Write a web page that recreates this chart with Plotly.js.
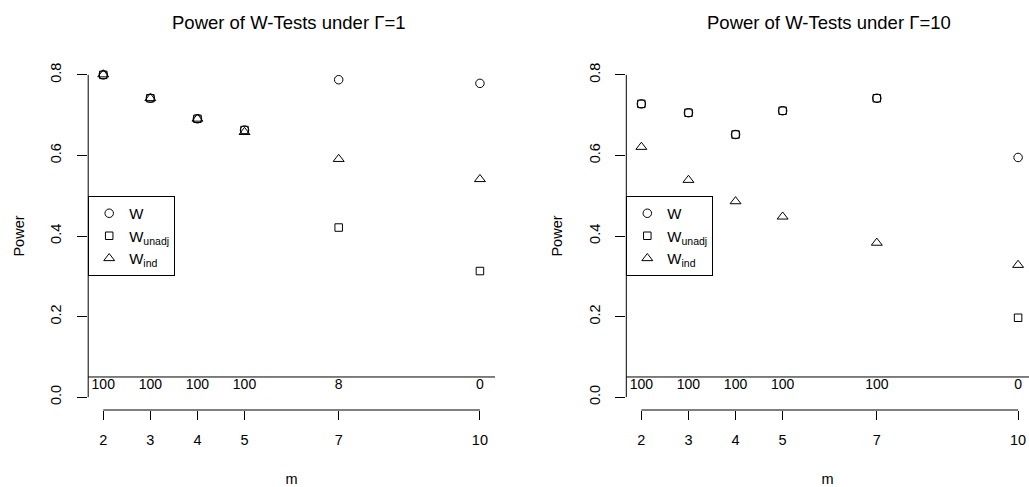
<!DOCTYPE html>
<html>
<head>
<meta charset="utf-8">
<script src="https://cdn.plot.ly/plotly-3.0.1.min.js"></script>
<style>html,body{margin:0;padding:0;background:#fff;}#chart{width:1029px;height:487px;}</style>
</head>
<body>
<div id="chart"></div>
<script>
// ---- data ----
var m = [2, 3, 4, 5, 7, 10];
var mTickLabels = ["2", "3", "4", "5", "7", "10"];
var powerTicks = [0, 0.2, 0.4, 0.6, 0.8];
var powerTickLabels = ["0.0", "0.2", "0.4", "0.6", "0.8"];

var g1_W     = [0.800, 0.742, 0.691, 0.663, 0.788, 0.779];
var g1_unadj = [0.800, 0.742, 0.691, 0.663, 0.421, 0.313];
var g1_ind   = [0.801, 0.742, 0.691, 0.658, 0.591, 0.541];
var g1_count = [100, 100, 100, 100, 8, 0];

var g10_W     = [0.728, 0.706, 0.652, 0.711, 0.742, 0.595];
var g10_unadj = [0.728, 0.706, 0.652, 0.711, 0.742, 0.197];
var g10_ind   = [0.621, 0.539, 0.486, 0.448, 0.383, 0.328];
var g10_count = [100, 100, 100, 100, 100, 0];

var seriesNames = ["W", "W<sub>unadj</sub>", "W<sub>ind</sub>"];
var panelTitles = ["Power of W-Tests under \u0393=1", "Power of W-Tests under \u0393=10"];

// ---- styling / layout constants ----
var W = 1029, H = 487;
var FONT = "Liberation Sans, Arial, Helvetica, sans-serif";
var COUNT_Y = 0.03, HLINE_Y = 0.05;
var symbols = ["circle-open", "square-open", "triangle-up-open"];
var sizes = [8.5, 7.5, 9.5];

function px(x) { return x / W; }
function py(y) { return (H - y) / H; }

var traces = [];
function addPanel(suffix, legendId, series, counts) {
  series.forEach(function (vals, i) {
    traces.push({
      type: "scatter", mode: "markers",
      x: m, y: vals, name: seriesNames[i],
      xaxis: "x" + suffix, yaxis: "y" + suffix,
      legend: legendId,
      marker: { symbol: symbols[i], size: sizes[i], color: "#000", line: { color: "#000", width: 1 } },
      hoverinfo: "x+y+name"
    });
  });
  traces.push({
    type: "scatter", mode: "text",
    x: m, y: m.map(function () { return COUNT_Y; }),
    text: counts.map(String),
    textposition: "middle center",
    textfont: { family: FONT, size: 14, color: "#000" },
    xaxis: "x" + suffix, yaxis: "y" + suffix,
    showlegend: false, hoverinfo: "skip"
  });
}
addPanel("", "legend", [g1_W, g1_unadj, g1_ind], g1_count);
addPanel("2", "legend2", [g10_W, g10_unadj, g10_ind], g10_count);

function xAxis(domain, range, anchor) {
  return {
    domain: domain, range: range, anchor: anchor,
    tickmode: "array", tickvals: m, ticktext: mTickLabels,
    ticks: "outside", ticklen: 9, tickwidth: 1, tickcolor: "#000",
    ticklabelstandoff: 8,
    showline: false, showgrid: false, zeroline: false,
    tickfont: { family: FONT, size: 14.5, color: "#000" },
    title: { text: "m", font: { family: FONT, size: 14.5, color: "#000" }, standoff: 30 },
    fixedrange: true
  };
}
function yAxis(domain, anchor) {
  return {
    domain: domain, range: [-0.032, 0.832], anchor: anchor,
    tickmode: "array", tickvals: powerTicks, ticktext: powerTickLabels,
    tickangle: -90,
    ticks: "outside", ticklen: 10, tickwidth: 1, tickcolor: "#000",
    ticklabelstandoff: 10,
    showline: false, showgrid: false, zeroline: false,
    tickfont: { family: FONT, size: 14.5, color: "#000" },
    title: { text: "Power", font: { family: FONT, size: 14.5, color: "#000" }, standoff: 20 },
    fixedrange: true
  };
}

var yDom = [py(410), py(62)];
var lineStyle = { color: "#000", width: 1 };
function panelShapes(xs, ys) {
  return [
    { type: "line", xref: xs + " domain", yref: ys, x0: 0, x1: 0, y0: 0, y1: 0.8, line: lineStyle },
    { type: "line", xref: xs, yref: ys + " domain", x0: m[0], x1: m[m.length - 1], y0: 0, y1: 0, line: lineStyle },
    { type: "line", xref: xs + " domain", yref: ys, x0: 0, x1: 1, y0: HLINE_Y, y1: HLINE_Y, line: lineStyle }
  ];
}
function legendBox(xPix) {
  return {
    x: px(xPix), xanchor: "left", xref: "paper",
    y: py(196), yanchor: "top", yref: "paper",
    bgcolor: "#fff", bordercolor: "#000", borderwidth: 1,
    font: { family: FONT, size: 15, color: "#000" },
    tracegroupgap: 0, itemwidth: 30
  };
}

var layout = {
  width: W, height: H,
  margin: { l: 0, r: 0, t: 0, b: 0 },
  paper_bgcolor: "#fff", plot_bgcolor: "#fff",
  font: { family: FONT, size: 14, color: "#000" },
  xaxis: xAxis([px(88.2), px(495)], [1.68, 10.32], "y"),
  yaxis: yAxis(yDom, "x"),
  xaxis2: xAxis([px(626.3), 1], [1.68, 10.232], "y2"),
  yaxis2: yAxis(yDom, "x2"),
  shapes: panelShapes("x", "y").concat(panelShapes("x2", "y2")),
  legend: legendBox(88.2),
  legend2: legendBox(626.3),
  annotations: [
    { text: panelTitles[0], xref: "paper", yref: "paper", x: px(289), y: py(22.5), xanchor: "center", yanchor: "middle", showarrow: false, font: { family: FONT, size: 18.5, color: "#000" } },
    { text: panelTitles[1], xref: "paper", yref: "paper", x: px(829), y: py(22.5), xanchor: "center", yanchor: "middle", showarrow: false, font: { family: FONT, size: 18.5, color: "#000" } }
  ],
  showlegend: true
};

Plotly.newPlot("chart", traces, layout, { displayModeBar: false, staticPlot: true });
</script>
</body>
</html>
